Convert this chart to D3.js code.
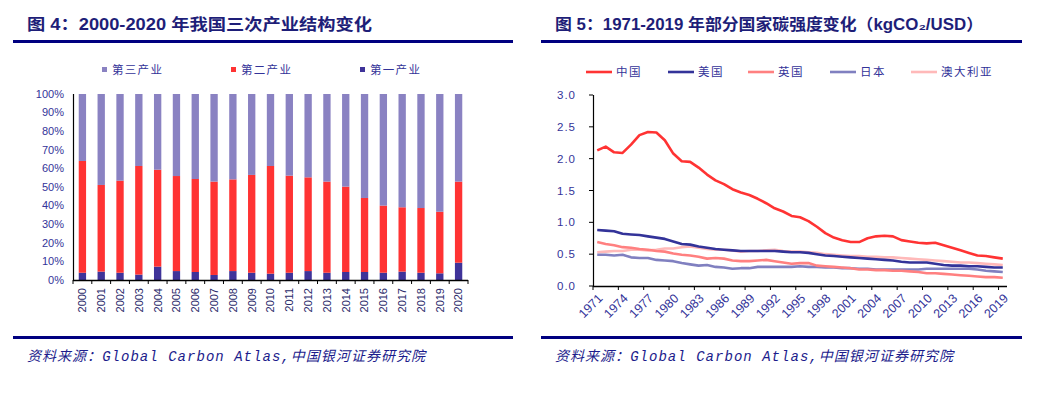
<!DOCTYPE html>
<html><head><meta charset="utf-8">
<script src="https://cdn.jsdelivr.net/npm/d3@7/dist/d3.min.js"></script>
<style>
body{margin:0;background:#fff;}
svg{display:block;}
text{font-family:"Liberation Sans",Arial,"Noto Sans CJK SC",sans-serif;}
</style></head><body>
<svg id="c" width="1050" height="394"></svg>
<script>
// ---------- data: chart 1 (三次产业结构) ----------
const barYears = ["2000","2001","2002","2003","2004","2005","2006","2007","2008","2009","2010","2011","2012","2013","2014","2015","2016","2017","2018","2019","2020"];
const primary   = [3.9,4.5,3.9,2.9,7.2,4.8,4.3,2.7,4.8,3.9,3.4,3.9,4.8,3.9,4.3,4.3,3.9,4.5,3.9,3.6,9.3];
const secondary = [60.1,46.6,49.5,58.4,52.1,51.1,50.0,50.2,49.3,52.6,57.9,52.2,50.4,49.0,45.9,39.8,36.1,34.6,34.8,33.1,43.6];
const tertiary  = primary.map((p,i)=>+(100-p-secondary[i]).toFixed(1));
const barSeries = ["第一产业","第二产业","第三产业"];
const barTicks = [0,10,20,30,40,50,60,70,80,90,100];

// ---------- data: chart 2 (碳强度) ----------
const lineYears = d3.range(1971,2020).map(String);
const china = [2.13,2.19,2.10,2.09,2.22,2.37,2.42,2.41,2.29,2.08,1.96,1.95,1.86,1.75,1.66,1.60,1.52,1.47,1.43,1.37,1.30,1.22,1.17,1.10,1.08,1.02,0.93,0.83,0.76,0.72,0.69,0.69,0.75,0.78,0.79,0.78,0.72,0.70,0.68,0.67,0.68,0.64,0.60,0.56,0.52,0.48,0.47,0.45,0.43];
const usa   = [0.88,0.87,0.86,0.82,0.81,0.80,0.78,0.76,0.74,0.70,0.66,0.65,0.62,0.60,0.58,0.57,0.56,0.55,0.55,0.55,0.55,0.55,0.54,0.53,0.53,0.52,0.50,0.48,0.47,0.46,0.45,0.44,0.43,0.42,0.41,0.40,0.38,0.37,0.37,0.37,0.35,0.33,0.32,0.32,0.31,0.31,0.30,0.29,0.29];
const uk    = [0.69,0.66,0.64,0.61,0.60,0.58,0.57,0.55,0.54,0.51,0.49,0.48,0.46,0.43,0.44,0.43,0.40,0.39,0.39,0.40,0.41,0.39,0.37,0.35,0.36,0.36,0.32,0.31,0.30,0.29,0.28,0.26,0.26,0.25,0.25,0.24,0.24,0.23,0.22,0.20,0.20,0.19,0.18,0.17,0.16,0.15,0.14,0.14,0.13];
const japan = [0.49,0.49,0.48,0.49,0.45,0.44,0.44,0.41,0.40,0.39,0.36,0.34,0.32,0.33,0.30,0.29,0.27,0.28,0.28,0.30,0.30,0.30,0.30,0.30,0.31,0.30,0.30,0.29,0.29,0.28,0.28,0.27,0.27,0.26,0.26,0.26,0.26,0.26,0.26,0.27,0.27,0.27,0.27,0.27,0.27,0.26,0.24,0.23,0.22];
const australia = [0.53,0.54,0.55,0.55,0.57,0.57,0.56,0.57,0.59,0.59,0.61,0.62,0.60,0.58,0.57,0.57,0.56,0.54,0.55,0.55,0.56,0.57,0.55,0.54,0.54,0.53,0.52,0.50,0.49,0.48,0.47,0.47,0.46,0.46,0.45,0.45,0.44,0.43,0.42,0.41,0.40,0.39,0.38,0.37,0.37,0.36,0.35,0.34,0.33];
const lineNames = ["中国","美国","英国","日本","澳大利亚"];
const lineTicks = [0,0.5,1.0,1.5,2.0,2.5,3.0];
const lineTickYears = lineYears.filter((d,i)=>i%3===0);

// ---------- styles ----------
const NAVY = "#000080", TXT = "#333399";
const barColors = {"第一产业":"#3f3399","第二产业":"#ff3333","第三产业":"#8a82c2"};
const lineColors = ["#ff3333","#333399","#ff8080","#8080c0","#ffb9b9"];

const svg = d3.select("#c");

function header(x0,x1,title,titleX,titleW){
  svg.append("text").attr("x",titleX).attr("y",30)
    .attr("font-family","'Noto Sans CJK SC',sans-serif").attr("font-weight","bold")
    .attr("font-size",16).attr("fill","#1e1e78")
    .attr("textLength",titleW).attr("lengthAdjust","spacingAndGlyphs").text(title);
  svg.append("rect").attr("x",x0).attr("y",40).attr("width",x1-x0).attr("height",3).attr("fill",NAVY);
  svg.append("rect").attr("x",x0).attr("y",336).attr("width",x1-x0).attr("height",3).attr("fill",NAVY);
  const s = svg.append("text").attr("x",titleX).attr("y",361).attr("font-size",14)
    .attr("font-style","italic").attr("fill","#1c1c8c")
    .attr("textLength",398).attr("lengthAdjust","spacing");
  s.append("tspan").attr("font-family","'Noto Sans CJK SC',sans-serif").text("资料来源：");
  s.append("tspan").attr("font-family","'Liberation Mono',monospace").text("Global Carbon Atlas,");
  s.append("tspan").attr("font-family","'Noto Sans CJK SC',sans-serif").text("中国银河证券研究院");
}
header(13,513,"图 4：2000-2020 年我国三次产业结构变化",27,345);
header(541,1022,"图 5：1971-2019 年部分国家碳强度变化（kgCO₂/USD）",555,428);

// ---------- chart 1 ----------
const x1 = d3.scaleBand().domain(barYears).range([73,468]).paddingInner(0.61).paddingOuter(0.305);
const y1 = d3.scaleLinear().domain([0,100]).range([280,94]);
const stackData = barYears.map((yr,i)=>({year:yr,"第一产业":primary[i],"第二产业":secondary[i],"第三产业":tertiary[i]}));
const stacked = d3.stack().keys(barSeries)(stackData);
const g1 = svg.append("g");
g1.selectAll("g.s").data(stacked).join("g").attr("fill",d=>barColors[d.key])
  .selectAll("rect").data(d=>d).join("rect")
  .attr("x",d=>x1(d.data.year)).attr("width",x1.bandwidth())
  .attr("y",d=>y1(d[1])).attr("height",d=>y1(d[0])-y1(d[1]));

// y axis labels
g1.selectAll("text.yl").data(barTicks).join("text")
  .attr("x",64).attr("y",d=>y1(d)).attr("dy","0.35em").attr("text-anchor","end")
  .attr("font-size",11).attr("fill",TXT).text(d=>d+"%");
g1.append("line").attr("x1",73.5).attr("x2",73.5).attr("y1",94).attr("y2",280.5).attr("stroke","#000").attr("stroke-width",1.2);
g1.append("line").attr("x1",73).attr("x2",468).attr("y1",280.5).attr("y2",280.5).attr("stroke","#000").attr("stroke-width",1.5);
const step1 = x1.step();
g1.selectAll("line.xt").data(barYears.concat(["end"])).join("line")
  .attr("x1",(d,i)=>73+i*step1).attr("x2",(d,i)=>73+i*step1)
  .attr("y1",280).attr("y2",284).attr("stroke","#000");
g1.selectAll("text.xl").data(barYears).join("text")
  .attr("transform",d=>`translate(${x1(d)+x1.bandwidth()/2},288) rotate(-90)`)
  .attr("dy","0.35em").attr("text-anchor","end").attr("font-size",11).attr("fill","#2a2a6a").text(d=>d);

// legend 1
const leg1 = [{k:"第三产业",x:102},{k:"第二产业",x:231},{k:"第一产业",x:360}];
leg1.forEach(l=>{
  svg.append("rect").attr("x",l.x).attr("y",67).attr("width",5).attr("height",5).attr("fill",barColors[l.k]);
  svg.append("text").attr("x",l.x+10).attr("y",70).attr("dy","0.35em")
    .attr("font-family","'Noto Sans CJK SC',sans-serif").attr("font-size",11.5).attr("letter-spacing",1.3)
    .attr("fill",TXT).text(l.k);
});

// ---------- chart 2 ----------
const x2 = d3.scaleBand().domain(lineYears).range([593,1007]);
const y2 = d3.scaleLinear().domain([0,3]).range([286,95]);
const series = [china,usa,uk,japan,australia];
const line = d3.line().x((d,i)=>x2(lineYears[i])+x2.bandwidth()/2).y(d=>y2(d));
const g2 = svg.append("g");
[4,3,2,1,0].forEach(k=>{
  g2.append("path").datum(series[k]).attr("d",line).attr("fill","none")
    .attr("stroke",lineColors[k]).attr("stroke-width",2.6).attr("stroke-linejoin","round");
});
g2.append("line").attr("x1",593.5).attr("x2",593.5).attr("y1",95).attr("y2",286.5).attr("stroke","#000").attr("stroke-width",1.2);
g2.append("line").attr("x1",593).attr("x2",1007).attr("y1",286.5).attr("y2",286.5).attr("stroke","#000").attr("stroke-width",1.5);
g2.selectAll("line.yt").data(lineTicks).join("line")
  .attr("x1",589).attr("x2",593).attr("y1",d=>y2(d)).attr("y2",d=>y2(d)).attr("stroke","#000");
g2.selectAll("text.yl").data(lineTicks).join("text")
  .attr("x",576).attr("y",d=>y2(d)).attr("dy","0.35em").attr("text-anchor","end")
  .attr("font-size",11.5).attr("letter-spacing",1).attr("fill",TXT).text(d=>d.toFixed(1));
g2.selectAll("line.xt").data(lineTickYears).join("line")
  .attr("x1",d=>x2(d)).attr("x2",d=>x2(d)).attr("y1",286).attr("y2",290).attr("stroke","#000");
g2.selectAll("text.xl").data(lineTickYears).join("text")
  .attr("transform",d=>`translate(${x2(d)+x2.bandwidth()/2+3},296) rotate(-45)`)
  .attr("dy","0.35em").attr("text-anchor","end").attr("font-size",12.5).attr("fill",TXT).text(d=>d);

// legend 2
const leg2x = [586,668,748,830,911];
lineNames.forEach((n,i)=>{
  svg.append("line").attr("x1",leg2x[i]).attr("x2",leg2x[i]+26).attr("y1",72).attr("y2",72)
    .attr("stroke",lineColors[i]).attr("stroke-width",2.6);
  svg.append("text").attr("x",leg2x[i]+30).attr("y",72).attr("dy","0.35em")
    .attr("font-family","'Noto Sans CJK SC',sans-serif").attr("font-size",11.5).attr("letter-spacing",1.5)
    .attr("fill",TXT).text(n);
});
</script>
</body></html>
